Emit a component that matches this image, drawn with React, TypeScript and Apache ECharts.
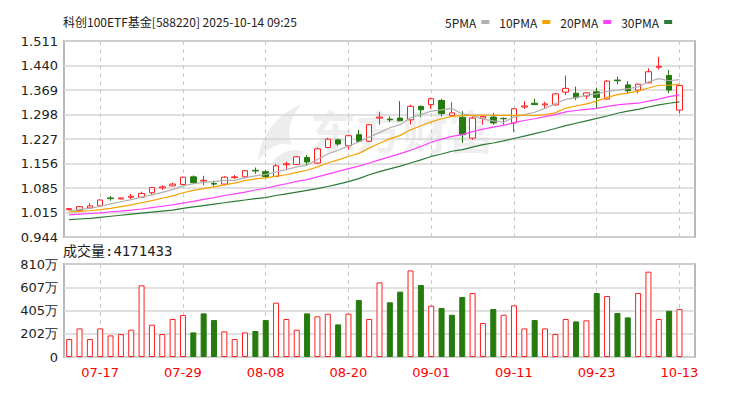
import React, { useEffect, useRef } from 'react';
import * as echarts from 'echarts';

const dates = [
  '07-14','07-15','07-16','07-17','07-18','07-21','07-22','07-23','07-24','07-25','07-28','07-29','07-30','07-31',
  '08-01','08-04','08-05','08-06','08-07','08-08','08-11','08-12','08-13','08-14','08-15','08-18','08-19','08-20','08-21','08-22','08-25','08-26','08-27','08-28','08-29',
  '09-01','09-02','09-03','09-04','09-05','09-08','09-09','09-10','09-11','09-12','09-15','09-16','09-17','09-18','09-19','09-22','09-23','09-24','09-25','09-26','09-29','09-30',
  '10-09','10-10','10-13','10-14',
];
const labelledDates = ['07-17','07-29','08-08','08-20','09-01','09-11','09-23','10-13'];

const opens = [
  1.023,1.021,1.028,1.034,1.057,1.054,1.059,1.059,1.072,1.086,
  1.092,1.096,1.118,1.106,1.099,1.097,1.116,1.118,1.137,1.133,
  1.119,1.153,1.154,1.174,1.158,1.203,1.225,1.208,1.240,1.221,
  1.288,1.285,1.288,1.283,1.322,1.327,1.339,1.296,1.290,1.230,
  1.288,1.291,1.287,1.274,1.320,1.331,1.326,1.326,1.363,1.360,
  1.352,1.364,1.343,1.398,1.384,1.369,1.390,1.435,1.411,1.311,
];
const closes = [
  1.026,1.032,1.034,1.051,1.055,1.057,1.062,1.070,1.087,1.089,
  1.097,1.117,1.101,1.108,1.097,1.117,1.118,1.136,1.135,1.119,
  1.150,1.156,1.176,1.161,1.199,1.227,1.213,1.237,1.221,1.269,
  1.291,1.283,1.280,1.322,1.312,1.344,1.301,1.303,1.240,1.288,
  1.293,1.274,1.286,1.315,1.323,1.327,1.329,1.358,1.374,1.347,
  1.361,1.348,1.395,1.396,1.367,1.386,1.422,1.438,1.369,1.382,
];
const lows = [
  1.021,1.020,1.027,1.030,1.049,1.053,1.054,1.058,1.066,1.080,
  1.091,1.095,1.097,1.094,1.090,1.093,1.112,1.114,1.127,1.114,
  1.118,1.141,1.152,1.152,1.156,1.201,1.208,1.197,1.219,1.219,
  1.269,1.277,1.279,1.269,1.291,1.315,1.293,1.294,1.216,1.225,
  1.269,1.269,1.269,1.248,1.314,1.326,1.316,1.324,1.355,1.340,
  1.343,1.316,1.341,1.386,1.360,1.360,1.389,1.428,1.360,1.302,
];
const highs = [
  1.028,1.033,1.042,1.053,1.063,1.058,1.069,1.075,1.089,1.094,
  1.101,1.118,1.122,1.121,1.107,1.120,1.123,1.137,1.145,1.138,
  1.155,1.162,1.178,1.181,1.203,1.231,1.228,1.240,1.254,1.271,
  1.305,1.293,1.337,1.327,1.324,1.347,1.344,1.334,1.308,1.293,
  1.294,1.303,1.290,1.317,1.337,1.344,1.335,1.360,1.411,1.379,
  1.363,1.376,1.398,1.408,1.395,1.388,1.432,1.465,1.427,1.383,
];

// volume in 万 (10k shares)
const volumes = [
  157,249,157,249,188,200,238,624,281,200,
  331,366,214,380,322,223,157,214,226,322,
  473,331,238,380,354,377,284,377,496,331,
  650,476,569,754,627,447,427,368,523,557,
  296,418,368,450,249,322,249,200,331,310,
  319,557,531,383,345,557,743,331,403,417.1433,
];
const volumeUp = [
  1,1,1,1,1,1,1,1,1,1,
  1,1,0,0,0,1,1,1,0,0,
  1,1,1,0,1,1,0,1,0,1,
  1,0,0,1,0,1,0,0,0,1,
  1,0,1,1,1,0,1,1,1,0,
  1,0,1,0,0,1,1,1,0,1,
];

const ma5 = [
  1.020,1.023,1.027,1.033,1.040,1.046,1.052,1.059,1.066,1.073,
  1.081,1.092,1.098,1.102,1.104,1.108,1.108,1.115,1.121,1.125,
  1.132,1.139,1.147,1.152,1.168,1.184,1.195,1.207,1.219,1.233,
  1.246,1.260,1.269,1.289,1.298,1.308,1.312,1.316,1.300,1.295,
  1.285,1.280,1.276,1.291,1.298,1.305,1.316,1.330,1.342,1.347,
  1.354,1.358,1.365,1.369,1.373,1.378,1.393,1.402,1.396,1.399,
];
const ma10 = [
  1.016,1.018,1.020,1.023,1.027,1.032,1.037,1.043,1.049,1.056,
  1.063,1.072,1.079,1.084,1.089,1.095,1.100,1.107,1.112,1.115,
  1.120,1.124,1.131,1.137,1.147,1.158,1.167,1.177,1.186,1.201,
  1.215,1.228,1.238,1.254,1.266,1.277,1.286,1.293,1.295,1.296,
  1.297,1.296,1.296,1.296,1.297,1.295,1.298,1.303,1.317,1.323,
  1.329,1.337,1.348,1.356,1.360,1.366,1.375,1.383,1.383,1.386,
];
const ma20 = [
  1.008,1.010,1.012,1.014,1.017,1.019,1.022,1.025,1.029,1.033,
  1.037,1.042,1.047,1.053,1.058,1.064,1.069,1.074,1.080,1.085,
  1.092,1.098,1.105,1.110,1.118,1.126,1.134,1.142,1.149,1.158,
  1.167,1.176,1.185,1.195,1.206,1.218,1.227,1.235,1.240,1.249,
  1.256,1.262,1.267,1.275,1.281,1.286,1.292,1.298,1.306,1.310,
  1.313,1.316,1.322,1.326,1.329,1.331,1.337,1.343,1.350,1.355,
];
const ma30 = [
  0.994,0.996,0.998,1.001,1.004,1.007,1.010,1.013,1.016,1.019,
  1.022,1.027,1.031,1.035,1.039,1.043,1.047,1.051,1.055,1.058,
  1.064,1.069,1.074,1.079,1.084,1.090,1.097,1.104,1.113,1.124,
  1.133,1.141,1.149,1.158,1.167,1.177,1.184,1.192,1.197,1.204,
  1.211,1.216,1.222,1.229,1.236,1.243,1.250,1.258,1.266,1.273,
  1.280,1.287,1.294,1.302,1.308,1.313,1.320,1.326,1.331,1.335,
];

const priceTickLabels = ['0.944','1.015','1.085','1.156','1.227','1.298','1.369','1.440','1.511'];
const volumeTickLabels = ['0','202万','405万','607万','810万'];

const RED = '#ff1f1f';
const GREEN = '#267a0e';
const MA_COLORS = ['#b0b0b0', '#f5a300', '#ff40ff', '#2b7a38'];

const PRICE_MIN = 0.944;
const PRICE_MAX = 1.511;
const PRICE_STEP = (PRICE_MAX - PRICE_MIN) / 8;
const VOL_MAX = 810;
const VOL_STEP = VOL_MAX / 4;

echarts.graphic.registerShape(
  'emlogo',
  echarts.graphic.extendPath(
    'M0,60 C2,35 18,10 44,0 C32,14 28,28 34,44 C24,38 12,44 0,60 Z M14,62 C22,50 34,46 46,50 C40,58 28,64 14,62 Z',
    {}
  )
);

const labelInterval = (_idx: number, value: string) => labelledDates.includes(value);

export default function App() {
  const ref = useRef<HTMLDivElement>(null);
  useEffect(() => {
    document.body.style.margin = '0';
    if (!ref.current) return;
    const chart = echarts.init(ref.current, undefined, { renderer: 'svg' });
    const candleData = opens.map((o, i) => [o, closes[i], lows[i], highs[i]]);
    const volData = volumes.map((v, i) => ({
      value: v,
      itemStyle: volumeUp[i]
        ? { color: '#fff', borderColor: RED, borderWidth: 1 }
        : { color: GREEN, borderColor: GREEN, borderWidth: 1 },
    }));
    const mas = [ma5, ma10, ma20, ma30];
    const maNames = ['5PMA', '10PMA', '20PMA', '30PMA'];
    const axisFont = 'DejaVu Sans';
    chart.setOption({
      animation: false,
      backgroundColor: '#fff',
      title: {
        text: '科创100ETF基金[588220] 2025-10-14 09:25',
        left: 63,
        top: 15,
        padding: 0,
        textStyle: { fontSize: 12, fontWeight: 'normal', color: '#222', fontFamily: 'Noto Sans CJK SC' },
      },
      legend: {
        data: maNames,
        left: 445,
        top: 16,
        padding: 0,
        align: 'right',
        icon: 'rect',
        itemWidth: 8,
        itemHeight: 4,
        itemGap: 10,
        selectedMode: false,
        textStyle: { fontSize: 12, color: '#222', fontFamily: 'Noto Sans CJK SC' },
      },
      graphic: [
        {
          type: 'emlogo',
          x: 258,
          y: 104,
          scaleX: 1,
          scaleY: 0.95,
          z: -1,
          silent: true,
          style: { fill: 'rgba(0,0,0,0.07)' },
        },
        {
          type: 'text',
          left: 310,
          top: 106,
          z: -1,
          silent: true,
          style: {
            text: '东方财富',
            font: 'bold 46px "Noto Sans CJK SC"',
            fill: 'rgba(0,0,0,0.07)',
          },
        },
        {
          type: 'text',
          left: 63,
          top: 244,
          style: {
            text: '成交量:' + Math.round(volumes[volumes.length - 1] * 10000),
            font: '14px "DejaVu Sans Mono", "Noto Sans CJK SC"',
            fill: '#222',
          },
        },
      ],
      grid: [
        { left: 64, top: 41, width: 631, height: 196, show: true, borderColor: '#b8b8b8', borderWidth: 2, backgroundColor: 'transparent' },
        { left: 64, top: 264, width: 631, height: 93, show: true, borderColor: '#b8b8b8', borderWidth: 2, backgroundColor: 'transparent' },
      ],
      xAxis: [
        {
          type: 'category',
          gridIndex: 0,
          data: dates,
          boundaryGap: true,
          axisLine: { show: false },
          axisTick: { show: false, alignWithLabel: true, interval: labelInterval },
          axisLabel: { show: false, interval: labelInterval },
          splitLine: {
            show: true,
            interval: labelInterval,
            alignWithLabel: true,
            lineStyle: { color: '#c8c8c8', type: [4, 4], width: 1 },
          },
        },
        {
          type: 'category',
          gridIndex: 1,
          data: dates,
          boundaryGap: true,
          axisLine: { show: false },
          axisTick: { show: false, alignWithLabel: true, interval: labelInterval },
          axisLabel: {
            show: true,
            interval: labelInterval,
            color: '#ff0000',
            fontSize: 13,
            fontFamily: axisFont,
            margin: 9,
          },
          splitLine: {
            show: true,
            interval: labelInterval,
            alignWithLabel: true,
            lineStyle: { color: '#c8c8c8', type: [4, 4], width: 1 },
          },
        },
      ],
      yAxis: [
        {
          type: 'value',
          gridIndex: 0,
          min: PRICE_MIN,
          max: PRICE_MAX,
          interval: PRICE_STEP,
          axisLine: { show: false },
          axisTick: { show: false },
          axisLabel: {
            color: '#222',
            fontSize: 13,
            fontFamily: axisFont,
            margin: 6,
            formatter: (v: number) => priceTickLabels[Math.round((v - PRICE_MIN) / PRICE_STEP)] ?? '',
          },
          splitLine: { show: true, lineStyle: { color: '#d6d6d6', width: 1.5 } },
        },
        {
          type: 'value',
          gridIndex: 1,
          min: 0,
          max: VOL_MAX,
          interval: VOL_STEP,
          axisLine: { show: false },
          axisTick: { show: false },
          axisLabel: {
            color: '#222',
            fontSize: 13,
            fontFamily: axisFont,
            margin: 6,
            formatter: (v: number) => volumeTickLabels[Math.round(v / VOL_STEP)] ?? '',
          },
          splitLine: { show: true, lineStyle: { color: '#d6d6d6', width: 1.5 } },
        },
      ],
      series: [
        {
          type: 'candlestick',
          name: 'K',
          xAxisIndex: 0,
          yAxisIndex: 0,
          data: candleData,
          barWidth: 6,
          itemStyle: {
            color: '#fff',
            color0: GREEN,
            borderColor: RED,
            borderColor0: GREEN,
            borderWidth: 1,
          },
        },
        ...mas.map((m, k) => ({
          type: 'line',
          name: maNames[k],
          xAxisIndex: 0,
          yAxisIndex: 0,
          data: m,
          showSymbol: false,
          symbol: 'none',
          color: MA_COLORS[k],
          lineStyle: { width: 1.2, color: MA_COLORS[k] },
          z: 3,
        })),
        {
          type: 'bar',
          name: 'VOL',
          xAxisIndex: 1,
          yAxisIndex: 1,
          data: volData,
          barWidth: 6,
        },
      ],
    });
    return () => chart.dispose();
  }, []);
  return <div ref={ref} style={{ width: 735, height: 399 }} />;
}
